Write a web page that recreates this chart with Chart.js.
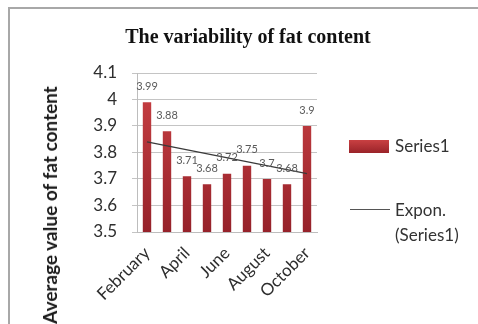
<!DOCTYPE html>
<html><head><meta charset="utf-8">
<script src="https://cdn.jsdelivr.net/npm/chart.js@4"></script>
<style>
html,body{margin:0;padding:0;background:#fff;}
#wrap{position:relative;width:478px;height:324px;overflow:hidden;background:#fff;}
#frame{position:absolute;left:8px;top:7px;width:520px;height:400px;border-left:2px solid #a8a8a8;border-top:2px solid #a8a8a8;}
canvas{position:absolute;left:0;top:0;}
.t{position:absolute;font-family:Lato,"Open Sans",sans-serif;white-space:nowrap;color:#333;}
#title{left:0;width:496px;top:26px;line-height:20px;text-align:center;font-family:"Liberation Serif","Times New Roman",serif;font-weight:bold;font-size:20px;color:#111;}
#ytitle{left:50px;top:205px;transform:translate(-50%,-50%) rotate(-90deg);font-weight:bold;font-size:19px;color:#1a1a1a;line-height:20px;}
#lgRect{position:absolute;left:349px;top:140px;width:40px;height:13px;background:linear-gradient(#c94042,#9a2329);}
#lgLine{position:absolute;left:350px;top:209px;width:40px;height:0;border-top:1.5px solid #555;}
.lt{left:395px;font-size:17px;line-height:20px;}
</style></head><body>
<div id="wrap">
<div id="frame"></div>
<canvas id="c" width="478" height="324"></canvas>
<div class="t" id="title">The variability of fat content</div>
<div class="t" id="ytitle">Average value of fat content</div>
<div id="lgRect"></div>
<div class="t lt" style="top:136px">Series1</div>
<div id="lgLine"></div>
<div class="t lt" style="top:200px">Expon.</div>
<div class="t lt" style="top:225px">(Series1)</div>
</div>
<script>
const months = ['February','March','April','May','June','July','August','September','October'];
const fatValues = [3.99, 3.88, 3.71, 3.68, 3.72, 3.75, 3.7, 3.68, 3.9];
const trendValues = [3.84, null, null, null, null, null, null, null, 3.72];
const yMin = 3.5, yMax = 4.1, yStep = 0.1;

const fmt = v => String(Number(v.toFixed(2)));

const valueLabels = {
  id: 'valueLabels',
  afterDatasetsDraw(chart) {
    const meta = chart.getDatasetMeta(1);
    const ctx = chart.ctx;
    ctx.save();
    ctx.font = '11px Lato, "Open Sans", sans-serif';
    ctx.fillStyle = '#5a5a5a';
    ctx.textAlign = 'center';
    ctx.textBaseline = 'middle';
    meta.data.forEach((el, i) => {
      ctx.fillText(fmt(fatValues[i]), el.x, el.y - 16);
    });
    ctx.restore();
  }
};

new Chart(document.getElementById('c'), {
  data: {
    labels: months,
    datasets: [
      {
        type: 'line',
        label: 'Expon. (Series1)',
        data: trendValues,
        spanGaps: true,
        borderColor: '#3a3a3a',
        borderWidth: 1.3,
        pointRadius: 0,
        fill: false,
        order: 0
      },
      {
        type: 'bar',
        label: 'Series1',
        data: fatValues,
        backgroundColor: (c) => {
          const a = c.chart.chartArea;
          if (!a) return '#b83236';
          const g = c.chart.ctx.createLinearGradient(0, a.top, 0, a.bottom);
          g.addColorStop(0, '#cc4245');
          g.addColorStop(1, '#96222a');
          return g;
        },
        barPercentage: 0.42,
        categoryPercentage: 1,
        order: 1
      }
    ]
  },
  options: {
    responsive: false,
    animation: false,
    layout: { padding: { left: 0, top: 73, right: 161, bottom: 0 } },
    plugins: { legend: { display: false }, title: { display: false }, tooltip: { enabled: false } },
    scales: {
      x: {
        offset: true,
        grid: { display: false, drawTicks: false },
        border: { display: true, color: '#bdbdbd' },
        ticks: {
          autoSkip: false,
          maxRotation: 45,
          minRotation: 45,
          padding: 11,
          color: '#2e2e2e',
          font: { family: 'Lato', size: 17 },
          callback: (v, i) => (i % 2 === 0 ? months[i] : '')
        },
        afterFit: s => { s.height = 92; }
      },
      y: {
        min: yMin,
        max: yMax,
        grid: { color: '#c4c4c4', lineWidth: 1, tickLength: 5, drawTicks: true },
        border: { display: true, color: '#bdbdbd' },
        ticks: {
          stepSize: yStep,
          padding: 15,
          color: '#2e2e2e',
          font: { family: 'Lato', size: 17 },
          callback: v => String(Number(v.toFixed(1)))
        },
        afterFit: s => { s.width = 137; }
      }
    }
  },
  plugins: [valueLabels]
});
</script>
</body></html>
